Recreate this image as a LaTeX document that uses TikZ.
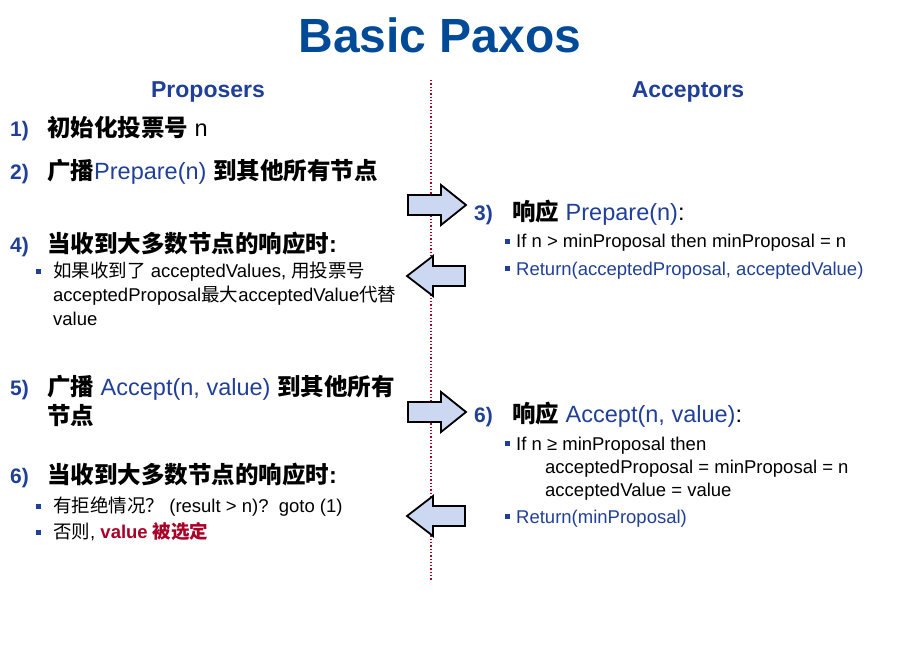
\documentclass[tikz,border=0pt]{standalone}
\usepackage{fontspec}
\setmainfont{Liberation Sans}
\newfontfamily\cjk{Noto Sans CJK SC}
\definecolor{pblue}{RGB}{32,64,152}
\definecolor{tblue}{RGB}{0,74,152}
\definecolor{dred}{RGB}{170,0,40}
\definecolor{afill}{RGB}{204,216,242}
\begin{document}
\begin{tikzpicture}[x=1pt,y=-1pt,
  item/.style={anchor=base west,inner sep=0,font=\fontsize{23.5}{26}\selectfont},
  num/.style={anchor=base west,inner sep=0,font=\fontsize{21}{24}\selectfont\bfseries,text=pblue},
  sub/.style={anchor=base west,inner sep=0,font=\fontsize{18.5}{21}\selectfont},
  head/.style={inner sep=0,font=\fontsize{23}{26}\selectfont\bfseries,text=pblue},
  bul/.style={fill=pblue,minimum size=5pt,inner sep=0},
  arr/.style={draw=black,fill=afill,line width=1.8pt,line join=miter}]
\useasboundingbox (0,0) rectangle (912,664);
\node[inner sep=0,font=\fontsize{48}{52}\selectfont\bfseries,text=tblue] (title) at (440,35) {Basic Paxos};
\node[head] (prop) at (208,92) {Proposers};
\node[head] (acc) at (688,92) {Acceptors};
\draw[dred,dotted,line width=1.3pt] (431,80) -- (431,580);
% left column
\node[num] (n1) at (10,136) {1)};
\node[item] (t1) at (47,136) {\cjk\bfseries 初始化投票号\normalfont\ n};
\node[num] (n2) at (10,179) {2)};
\node[item] (t2) at (47,179) {\cjk\bfseries 广播\normalfont\color{pblue}Prepare(n) \color{black}\cjk\bfseries 到其他所有节点};
\node[num] (n4) at (10,252) {4)};
\node[item] (t4) at (47,252) {\cjk\bfseries 当收到大多数节点的响应时\normalfont\bfseries:};
\node[bul] (b41) at (38,271) {};
\node[sub] (s41) at (53,277) {{\cjk 如果收到了} acceptedValues, {\cjk 用投票号}};
\node[sub] (s42) at (53,301) {acceptedProposal{\cjk 最大}acceptedValue{\cjk 代替}};
\node[sub] (s43) at (53,325) {value};
\node[num] (n5) at (10,395) {5)};
\node[item] (t5) at (47,395) {\cjk\bfseries 广播\normalfont\ \color{pblue}Accept(n, value) \color{black}\cjk\bfseries 到其他所有};
\node[item] (t5b) at (47,424) {\cjk\bfseries 节点};
\node[num] (n6) at (10,483) {6)};
\node[item] (t6) at (47,483) {\cjk\bfseries 当收到大多数节点的响应时\normalfont\bfseries:};
\node[bul] (b61) at (38,506) {};
\node[sub] (s61) at (53,512) {{\cjk 有拒绝情况？} (result > n)?\ \ goto (1)};
\node[bul] (b62) at (38,532) {};
\node[sub] (s62) at (53,538) {{\cjk 否则}, \textcolor{dred}{\bfseries value {\cjk 被选定}}};
% right column
\node[num] (n3) at (474,220) {3)};
\node[item] (t3) at (512,220) {\cjk\bfseries 响应\normalfont\ \color{pblue}Prepare(n)\color{black}:};
\node[bul] (b31) at (507,241) {};
\node[sub] (s31) at (516,247) {If n > minProposal then minProposal = n};
\node[bul] (b32) at (507,268) {};
\node[sub,text=pblue] (s32) at (516,275) {Return(acceptedProposal, acceptedValue)};
\node[num] (n6r) at (474,422) {6)};
\node[item] (t6r) at (512,422) {\cjk\bfseries 响应\normalfont\ \color{pblue}Accept(n, value)\color{black}:};
\node[bul] (b61r) at (507,443) {};
\node[sub] (s61r) at (516,450) {If n ≥ minProposal then};
\node[sub] (s62r) at (545,473) {acceptedProposal = minProposal = n};
\node[sub] (s63r) at (545,496) {acceptedValue = value};
\node[bul] (b64r) at (507,516) {};
\node[sub,text=pblue] (s64r) at (516,523) {Return(minProposal)};
% arrows
\draw[arr] (408,195) -- (441,195) -- (441,185) -- (466,205) -- (441,225) -- (441,215) -- (408,215) -- cycle;
\draw[arr] (465,266) -- (433,266) -- (433,256) -- (407,276) -- (433,296) -- (433,286) -- (465,286) -- cycle;
\draw[arr] (408,402) -- (441,402) -- (441,392) -- (466,412) -- (441,432) -- (441,422) -- (408,422) -- cycle;
\draw[arr] (465,506) -- (433,506) -- (433,496) -- (407,516) -- (433,536) -- (433,526) -- (465,526) -- cycle;
\end{tikzpicture}
\end{document}
